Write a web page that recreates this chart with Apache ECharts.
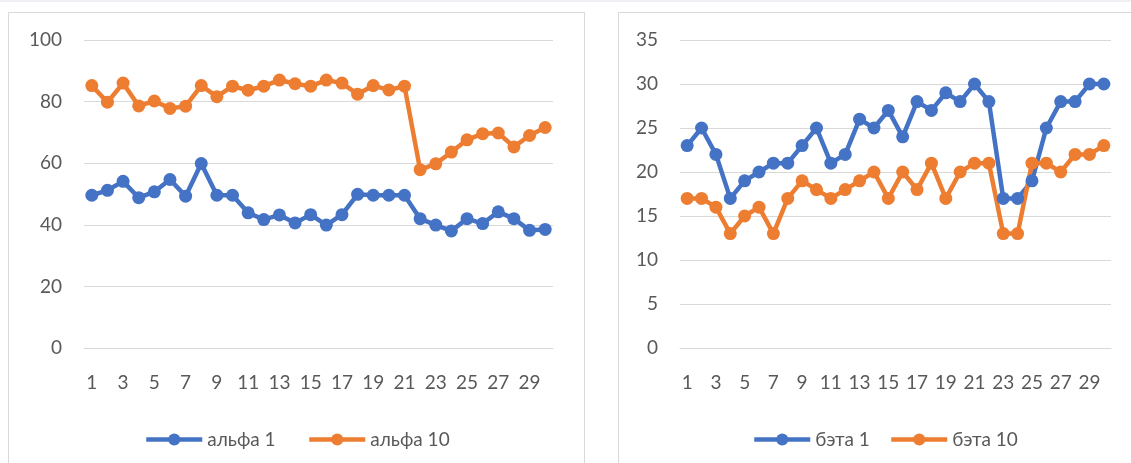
<!DOCTYPE html>
<html>
<head>
<meta charset="utf-8">
<script src="https://cdn.jsdelivr.net/npm/echarts@6/dist/echarts.min.js"></script>
<style>
html,body{margin:0;padding:0;background:#fff;}
#c{width:1131px;height:463px;}
</style>
</head>
<body>
<div id="c"></div>
<script>
const categories = Array.from({length: 30}, (_, i) => String(i + 1));
const alpha1 = [49.6, 51.2, 54.1, 48.8, 50.7, 54.7, 49.3, 59.9, 49.6, 49.6, 43.9, 41.7, 43.2, 40.6, 43.3, 39.9, 43.3, 49.9, 49.6, 49.6, 49.6, 42, 39.9, 38, 42, 40.4, 44.2, 42, 38.2, 38.5];
const alpha10 = [85.2, 79.8, 86, 78.6, 80.2, 77.8, 78.5, 85.2, 81.6, 85, 83.7, 85, 87, 85.8, 85, 87, 86, 82.4, 85.2, 83.8, 85, 57.9, 59.8, 63.6, 67.6, 69.6, 69.8, 65.3, 69, 71.6];
const beta1 = [23, 25, 22, 17, 19, 20, 21, 21, 23, 25, 21, 22, 26, 25, 27, 24, 28, 27, 29, 28, 30, 28, 17, 17, 19, 25, 28, 28, 30, 30];
const beta10 = [17, 17, 16, 13, 15, 16, 13, 17, 19, 18, 17, 18, 19, 20, 17, 20, 18, 21, 17, 20, 21, 21, 13, 13, 21, 21, 20, 22, 22, 23];
const names = ['альфа 1', 'альфа 10', 'бэта 1', 'бэта 10'];
const leftTicks = {min: 0, max: 100, interval: 20};
const rightTicks = {min: 0, max: 35, interval: 5};

const BLUE = '#4472C4', ORANGE = '#ED7D31';
const FONT = 'Lato, "Noto Sans", sans-serif';
const TXT = '#595959';
const GRID = '#d9d9d9';

function xAxis(gi) {
  return {
    type: 'category', gridIndex: gi, data: categories, boundaryGap: true,
    axisLine: {show: true, lineStyle: {color: GRID, width: 1}},
    axisTick: {show: false},
    axisLabel: {interval: 1, color: TXT, fontFamily: FONT, fontSize: 19, margin: 25}
  };
}
function yAxis(gi, t) {
  return {
    type: 'value', gridIndex: gi, min: t.min, max: t.max, interval: t.interval,
    axisLine: {show: false}, axisTick: {show: false},
    splitLine: {lineStyle: {color: GRID, width: 1}},
    axisLabel: {color: TXT, fontFamily: FONT, fontSize: 19, margin: 22}
  };
}
function series(name, data, color, gi) {
  return {
    name, type: 'line', data, xAxisIndex: gi, yAxisIndex: gi,
    symbol: 'circle', symbolSize: 13, showSymbol: true, showAllSymbol: true,
    lineStyle: {color, width: 4.5}, itemStyle: {color},
    animation: false
  };
}
function legend(name, left) {
  return {
    data: [name], left, top: 425, itemWidth: 56, itemHeight: 15,
    textStyle: {color: TXT, fontFamily: FONT, fontSize: 19},
    lineStyle: {width: 4.5},
    selectedMode: false
  };
}

const chart = echarts.init(document.getElementById('c'), null, {renderer: 'canvas'});
chart.setOption({
  backgroundColor: '#fff',
  animation: false,
  graphic: [
    {type: 'rect', shape: {x: 0, y: 0, width: 1131, height: 2}, style: {fill: '#eef0f4'}, silent: true},
    {type: 'rect', shape: {x: 8.5, y: 12.5, width: 576, height: 470}, style: {fill: 'none', stroke: GRID, lineWidth: 1}, silent: true},
    {type: 'rect', shape: {x: 618.5, y: 12.5, width: 600, height: 470}, style: {fill: 'none', stroke: GRID, lineWidth: 1}, silent: true}
  ],
  grid: [
    {left: 84, right: 578, top: 40, bottom: 115},
    {left: 680, right: 20, top: 40, bottom: 115}
  ],
  xAxis: [xAxis(0), xAxis(1)],
  yAxis: [yAxis(0, leftTicks), yAxis(1, rightTicks)],
  legend: [legend(names[0], 139), legend(names[1], 302), legend(names[2], 747), legend(names[3], 884)],
  series: [
    series(names[0], alpha1, BLUE, 0),
    series(names[1], alpha10, ORANGE, 0),
    series(names[2], beta1, BLUE, 1),
    series(names[3], beta10, ORANGE, 1)
  ]
});
</script>
</body>
</html>
